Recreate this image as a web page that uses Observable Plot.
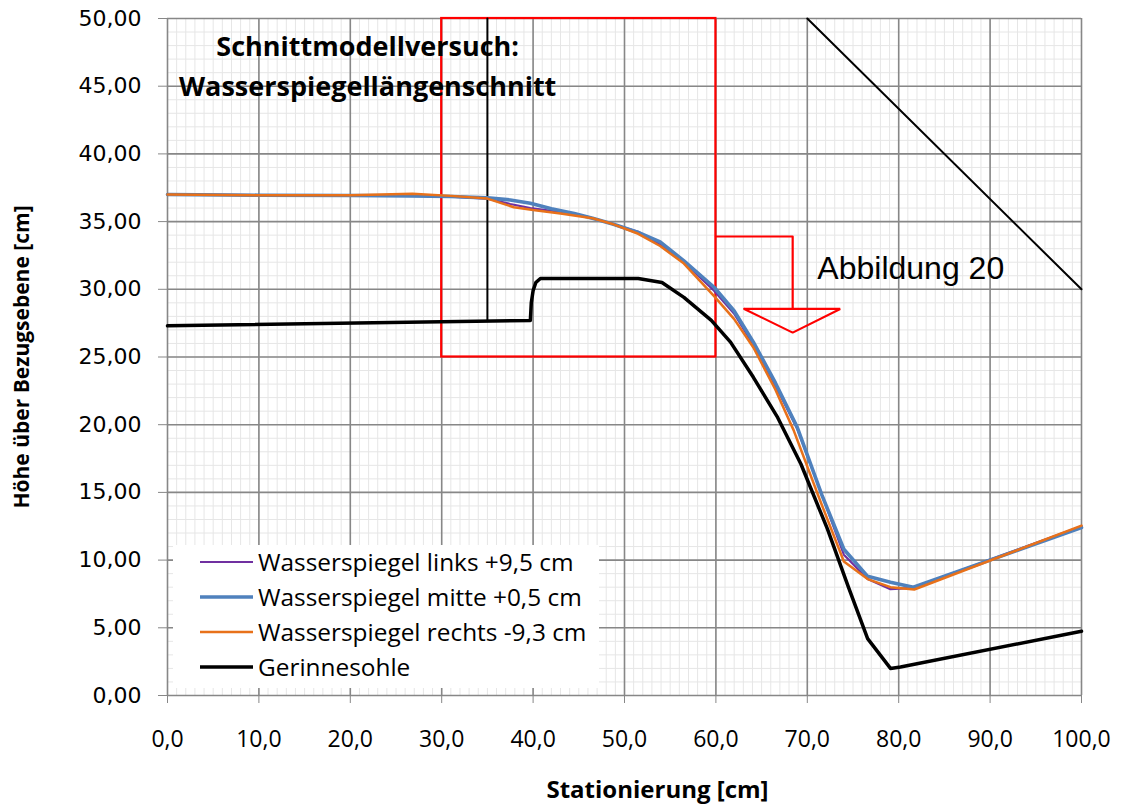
<!DOCTYPE html>
<html><head><meta charset="utf-8">
<script src="https://cdn.jsdelivr.net/npm/d3@7"></script>
<script src="https://cdn.jsdelivr.net/npm/@observablehq/plot@0.6"></script>
<style>
html,body{margin:0;padding:0;background:#fff;}
#chart{position:relative;width:1123px;height:807px;}
</style></head><body><div id="chart"></div>
<script>
// ---- data ----
const seriesNames = ["Wasserspiegel links +9,5 cm", "Wasserspiegel mitte +0,5 cm", "Wasserspiegel rechts -9,3 cm", "Gerinnesohle"];
const seriesColors = ["#7030A0", "#4F81BD", "#E8711A", "#000000"];

const linksX = [0, 10, 20, 26.5, 31, 35, 37.5, 39.7, 42, 44.5, 46.5, 48.8, 51.5, 53.9, 56.5, 59.8, 62, 64.1, 66.5, 68.9, 71.5, 74, 76.6, 79.1, 81.6, 100];
const linksY = [37.0, 36.95, 36.93, 36.95, 36.85, 36.7, 36.3, 36.0, 35.8, 35.6, 35.25, 34.8, 34.25, 33.3, 32.0, 29.9, 28.2, 25.9, 22.9, 19.7, 15.0, 10.4, 8.6, 7.85, 7.95, 12.5];

const mitteX = [0, 10, 20, 26.5, 31, 35, 37.5, 39.7, 42, 44.5, 46.5, 48.8, 51.5, 53.9, 56.5, 59.8, 62, 64.1, 66.5, 68.9, 71.6, 74, 76.6, 79.1, 81.6, 100];
const mitteY = [37.0, 36.95, 36.93, 36.9, 36.85, 36.75, 36.6, 36.35, 35.95, 35.6, 35.25, 34.8, 34.2, 33.5, 32.1, 30.15, 28.4, 26.1, 23.1, 19.8, 14.8, 10.8, 8.8, 8.37, 8.0, 12.4];

const rechtsX = [0, 10, 20, 26.8, 31, 35, 37.9, 40, 43, 46.5, 48.8, 51.5, 53.9, 56.5, 59.8, 62, 64.1, 66.5, 68.5, 71.4, 74, 76.6, 79.1, 81.7, 100];
const rechtsY = [37.0, 36.95, 36.95, 37.05, 36.9, 36.7, 36.06, 35.85, 35.6, 35.25, 34.8, 34.1, 33.2, 31.9, 29.5, 27.8, 25.7, 22.6, 19.6, 14.4, 9.9, 8.6, 8.0, 7.83, 12.55];

const sohleX = [0, 39.7, 39.8, 40.0, 40.3, 40.8, 51.5, 54.1, 56.5, 59.5, 61.6, 64.1, 66.7, 69.3, 72.2, 74.5, 76.6, 79.1, 80.2, 100];
const sohleY = [27.3, 27.7, 29.0, 29.9, 30.5, 30.8, 30.8, 30.5, 29.4, 27.7, 26.1, 23.5, 20.6, 17.1, 12.3, 8.0, 4.2, 2.0, 2.1, 4.75];

const xTicks = [0, 10, 20, 30, 40, 50, 60, 70, 80, 90, 100];
const yTicks = [0, 5, 10, 15, 20, 25, 30, 35, 40, 45, 50];
const xMinor = d3.range(0, 101, 1);
const yMinor = d3.range(0, 51, 1);

// annotations (data coordinates)
const redBox = [{x1: 30, x2: 60, y1: 25, y2: 50}];
const arrowStem = [[60, 33.9], [68.4, 33.9], [68.4, 28.55]];
const arrowHead = [[63.1, 28.55], [73.6, 28.55], [68.4, 26.8], [63.1, 28.55]];
const markerLine = [[35, 27.65], [35, 50]];
const diagonal = [[70, 50], [100, 30]];
const abbildung = [{x: 71.1, y: 31.5, text: "Abbildung 20"}];
const chartTitle = [{x: 21.9, y: 46.68, text: "Schnittmodellversuch:\nWasserspiegellängenschnitt"}];
const xLabel = "Stationierung [cm]";
const yLabel = "Höhe über Bezugsebene [cm]";

// ---- build ----
const rows = (xs, ys) => xs.map((x, i) => ({x, y: ys[i]}));
const fmtY = d => d.toFixed(2).replace(".", ",");
const fmtX = d => d.toFixed(1).replace(".", ",");
const pt = {x: d => d[0], y: d => d[1]};
const GRID = "#878787";
const SANS = "Open Sans";

const plot = Plot.plot({
  width: 1123, height: 807,
  marginLeft: 167, marginRight: 42, marginTop: 18, marginBottom: 112,
  x: {domain: [0, 100]},
  y: {domain: [0, 50]},
  style: {background: "white", overflow: "visible"},
  marks: [
    Plot.ruleX(xMinor, {stroke: "#e6e6e6", strokeWidth: 1}),
    Plot.ruleY(yMinor, {stroke: "#e6e6e6", strokeWidth: 1}),
    Plot.ruleX(xTicks, {stroke: GRID, strokeWidth: 1.6}),
    Plot.ruleY(yTicks, {stroke: GRID, strokeWidth: 1.6}),
    Plot.axisY({ticks: yTicks, tickFormat: fmtY, tickSize: 9, tickPadding: 17, stroke: GRID, fill: "#000",
      fontSize: 22, fontFamily: "DejaVu Sans", label: null}),
    Plot.axisX({ticks: xTicks, tickFormat: fmtX, tickSize: 8, tickPadding: 27, stroke: GRID, fill: "#000",
      fontSize: 23, fontFamily: SANS, label: null}),
    Plot.rect(redBox, {x1: "x1", x2: "x2", y1: "y1", y2: "y2", fill: "none", stroke: "#ff0000", strokeWidth: 2.2}),
    Plot.line(markerLine, {...pt, stroke: "#000", strokeWidth: 2}),
    Plot.line(diagonal, {...pt, stroke: "#000", strokeWidth: 2}),
    Plot.line(arrowStem, {...pt, stroke: "#ff0000", strokeWidth: 2.2}),
    Plot.line(arrowHead, {...pt, stroke: "#ff0000", strokeWidth: 2.2, strokeLinejoin: "miter"}),
    Plot.line(rows(linksX, linksY), {x: "x", y: "y", stroke: seriesColors[0], strokeWidth: 2.2}),
    Plot.line(rows(mitteX, mitteY), {x: "x", y: "y", stroke: seriesColors[1], strokeWidth: 3.6}),
    Plot.line(rows(rechtsX, rechtsY), {x: "x", y: "y", stroke: seriesColors[2], strokeWidth: 2.5}),
    Plot.line(rows(sohleX, sohleY), {x: "x", y: "y", stroke: seriesColors[3], strokeWidth: 3.5}),
    Plot.text(abbildung, {x: "x", y: "y", text: "text", textAnchor: "start", fontSize: 32, fontFamily: "Liberation Sans", fill: "#000"}),
    Plot.text(chartTitle, {x: "x", y: "y", text: "text", textAnchor: "middle", lineAnchor: "middle", fontSize: 27, lineHeight: 1.48,
      fontWeight: "bold", fontFamily: SANS, fill: "#000"}),
    Plot.text([xLabel], {frameAnchor: "bottom", textAnchor: "middle", lineAnchor: "middle", dx: 33, dy: 95, fontSize: 24, fontWeight: "bold", fontFamily: SANS, fill: "#000"}),
    Plot.text([yLabel], {frameAnchor: "left", textAnchor: "middle", lineAnchor: "middle", dx: -145, rotate: -90, fontSize: 21, fontWeight: "bold", fontFamily: SANS, fill: "#000"})
  ]
});
document.getElementById("chart").appendChild(plot);

// legend (inside plot area, white box over grid)
const svg = d3.select(plot);
const lg = svg.append("g").attr("transform", "translate(173,545)");
lg.append("rect").attr("width", 426).attr("height", 143).attr("fill", "white");
const widths = [2.2, 3.6, 2.5, 3.5];
seriesNames.forEach((name, i) => {
  const cy = 17 + i * 35;
  lg.append("line").attr("x1", 27).attr("x2", 80).attr("y1", cy).attr("y2", cy)
    .attr("stroke", seriesColors[i]).attr("stroke-width", widths[i]);
  lg.append("text").attr("x", 85).attr("y", cy).attr("dy", "0.35em").attr("text-anchor", "start")
    .attr("font-family", SANS).attr("font-size", 24.4).attr("fill", "#000").text(name);
});
</script></body></html>
